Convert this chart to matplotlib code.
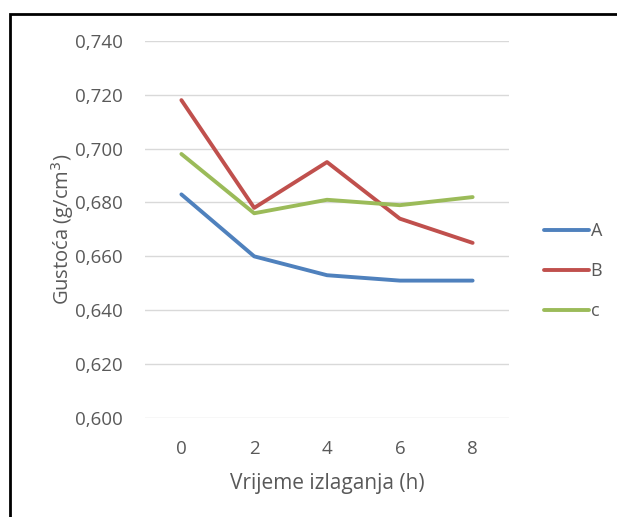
import matplotlib.pyplot as plt
from matplotlib.patches import Rectangle

hours = ['0', '2', '4', '6', '8']
series_names = ['A', 'B', 'c']
density_a = [0.683, 0.660, 0.653, 0.651, 0.651]
density_b = [0.718, 0.678, 0.695, 0.674, 0.665]
density_c = [0.698, 0.676, 0.681, 0.679, 0.682]
colors = ['#4F81BD', '#C0504D', '#9BBB59']

plt.rcParams['font.family'] = ['Open Sans', 'DejaVu Sans']
grey = '#595959'

fig = plt.figure(figsize=(6.17, 5.17), dpi=100)
ax = fig.add_axes([0.235, 0.1915, 0.59, 0.7295])

x = range(len(hours))
lines = []
for vals, c, name in zip([density_a, density_b, density_c], colors, series_names):
    ln, = ax.plot(x, vals, color=c, lw=2.8, solid_capstyle='round', label=name)
    lines.append(ln)

ax.set_xlim(-0.5, len(hours) - 0.5)
ax.set_ylim(0.600, 0.740)
ax.set_yticks([0.600 + 0.02 * i for i in range(8)])
ax.set_yticklabels([f'{0.600 + 0.02 * i:.3f}'.replace('.', ',') for i in range(8)])
ax.set_xticks(list(x))
ax.set_xticklabels(hours)
ax.grid(axis='y', color='#D9D9D9', lw=1)
ax.set_axisbelow(True)
for s in ax.spines.values():
    s.set_visible(False)
ax.tick_params(length=0, colors=grey, labelsize=13.5, pad=16)
ax.tick_params(axis='x', pad=15.5)

ax.set_xlabel('Vrijeme izlaganja (h)', color=grey, fontsize=15, labelpad=11)
ax.set_ylabel('Gustoća (g/cm$^3$)', color=grey, fontsize=14.5, labelpad=-1)

leg = fig.legend(handles=lines, loc='center left', bbox_to_anchor=(0.855, 0.476),
                 frameon=False, fontsize=13, handlelength=2.5, handletextpad=0.1,
                 labelspacing=1.22, labelcolor=grey)

fig.patches.append(Rectangle((10 / 617, -0.05), 1.1, 1 - 14 / 517 + 0.05,
                             transform=fig.transFigure, fill=False,
                             edgecolor='black', lw=2))

fig.savefig('out.png', dpi=100)
